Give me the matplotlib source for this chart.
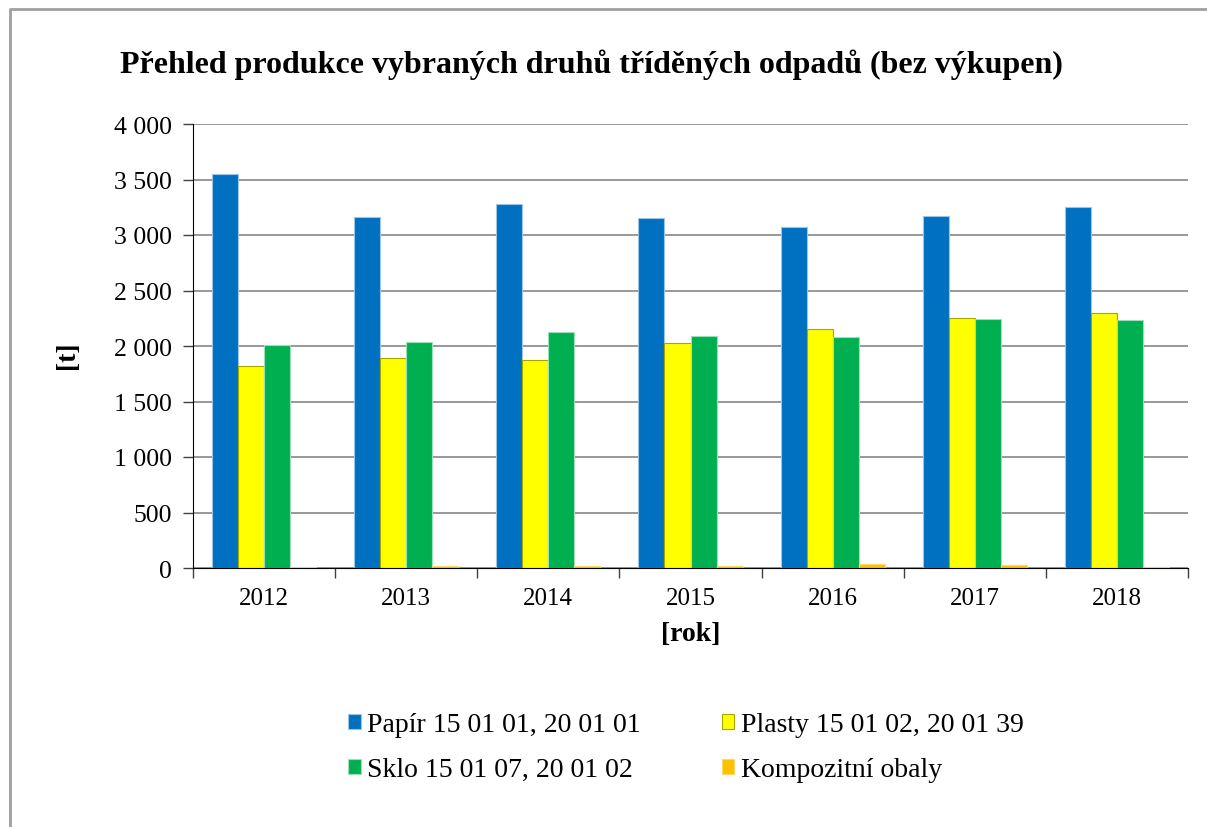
import numpy as np
import matplotlib
matplotlib.use('Agg')
import matplotlib.pyplot as plt
from matplotlib.lines import Line2D
from matplotlib.ticker import FuncFormatter, FixedLocator

plt.rcParams['font.family'] = ['Liberation Serif', 'DejaVu Serif']

# --- data ---
years = ['2012', '2013', '2014', '2015', '2016', '2017', '2018']
papir = [3550, 3160, 3280, 3150, 3070, 3170, 3250]
plasty = [1820, 1890, 1870, 2030, 2150, 2250, 2295]
sklo = [2010, 2040, 2130, 2090, 2080, 2245, 2235]
kompozit = [10, 18, 15, 20, 33, 25, 10]

series = [
    ('Papír 15 01 01, 20 01 01', papir, '#0070C0', '#9DC3E6'),
    ('Plasty 15 01 02, 20 01 39', plasty, '#FFFF00', '#A6A600'),
    ('Sklo 15 01 07, 20 01 02', sklo, '#00B050', '#9BE0B8'),
    ('Kompozitní obaly', kompozit, '#FFC000', '#FFD966'),
]

W, H = 1207, 828
fig = plt.figure(figsize=(W / 100, H / 100), dpi=100)
ax = fig.add_axes([193 / W, 1 - 569 / H, (1188 - 193) / W, (569 - 125) / H])

x = np.arange(len(years))
bw = 0.183
bars = []
for i, (name, vals, col, edge) in enumerate(series):
    b = ax.bar(x + (i - 1.5) * bw, vals, width=bw, color=col, edgecolor=edge,
               linewidth=0.8, label=name, zorder=3)
    bars.append(b)

ax.set_xlim(-0.5, len(years) - 0.5)
ax.set_ylim(0, 4000)
ax.set_yticks(np.arange(0, 4001, 500))
ax.yaxis.set_major_formatter(FuncFormatter(lambda v, p: f'{int(v):,}'.replace(',', ' ')))
ax.grid(axis='y', color='#868686', linewidth=1.2, zorder=0)

# category labels with tick marks on the boundaries
ax.set_xticks(x)
ax.set_xticklabels(years)
ax.tick_params(axis='x', which='major', length=0, pad=14, labelsize=18)
ax.xaxis.set_minor_locator(FixedLocator(np.arange(-0.5, len(years), 1.0)))
ax.tick_params(axis='x', which='minor', length=7, width=1, color='#404040')
ax.tick_params(axis='y', length=7, width=1, color='#404040', labelsize=18.5, pad=8)

for s in ['top', 'right']:
    ax.spines[s].set_visible(False)
ax.spines['left'].set_color('black')
ax.spines['bottom'].set_color('black')
ax.spines['left'].set_zorder(4)
ax.spines['bottom'].set_zorder(4)

ax.set_xlabel('[rok]', fontsize=20, fontweight='bold', labelpad=8)
fig.text(67 / W, 1 - 355 / H, '[t]', rotation=90, ha='center', va='center',
         fontsize=20, fontweight='bold')

fig.text(591 / W, 1 - 65 / H, 'Přehled produkce vybraných druhů tříděných odpadů (bez výkupen)',
         ha='center', va='center', fontsize=23, fontweight='bold')

# legend filled row by row: Papír, Plasty / Sklo, Kompozitní
order = [0, 2, 1, 3]
fig.legend([bars[k] for k in order], [series[k][0] for k in order],
           loc='upper left', bbox_to_anchor=(323 / W, 1 - 688 / H), ncol=2,
           frameon=False, fontsize=20, handlelength=0.45, handleheight=0.45,
           handletextpad=0.25, columnspacing=2.9, labelspacing=0.72)

# outer chart border (only top and left edges visible)
fig.add_artist(Line2D([10 / W, 10 / W, 1.0], [0.0, 1 - 10 / H, 1 - 10 / H],
                      transform=fig.transFigure, color='#A0A0A0', linewidth=2))

fig.savefig('out.png', dpi=100)
